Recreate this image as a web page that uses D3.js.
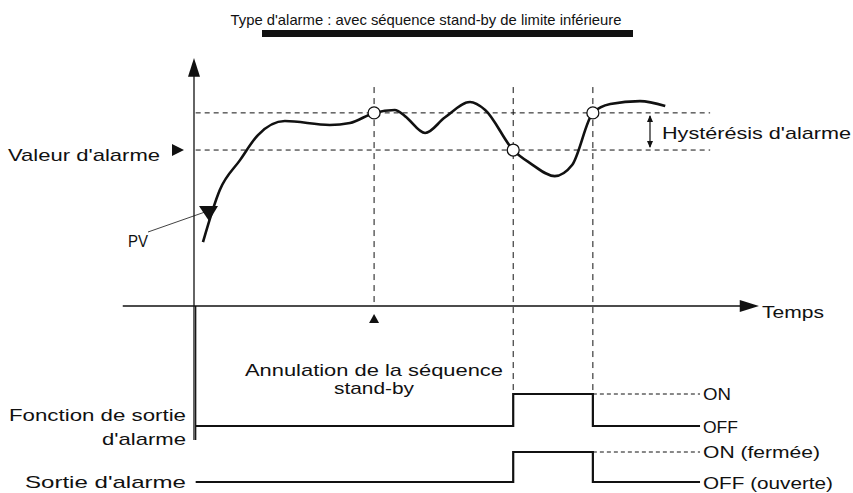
<!DOCTYPE html><html><head><meta charset="utf-8"><script src="https://cdn.jsdelivr.net/npm/d3@7"></script>
<style>body{margin:0;background:#fff}text{font-family:"Liberation Sans",Arial,sans-serif;fill:#111}</style></head><body>
<svg id="c" width="853" height="493"></svg>
<script>
const pvTime=[1.6,4.6,8.2,11.4,16.2,24.2,27.8,32.1,35.8,37.6,41.2,44.7,49.2,51.9,56.9,59.9,64.3,67.4,71.1,74.2,79.5,84.0];
const pvValue=[26,47.2,59.3,69.5,75.2,73.6,74.4,78.5,79.7,77.2,70.3,76.6,82.9,79.7,63.4,58.1,52.8,57.3,78.5,82.1,83.3,81.3];
const alarmValue=63.4, upperValue=78.5;
const events=[32.1,56.9,71.1]; // cancel, ON, OFF
const title="Type d'alarme : avec séquence stand-by de limite inférieure";
const svg=d3.select("#c");
const x=d3.scaleLinear().domain([0,100]).range([194,755]);
const y=d3.scaleLinear().domain([0,100]).range([306,60]);
const k="#111";
function txt(s,px,py,anchor,len,size){const t=svg.append("text").attr("x",px).attr("y",py).attr("text-anchor",anchor||"start").attr("font-size",size||17).text(s);if(len)t.attr("textLength",len).attr("lengthAdjust","spacingAndGlyphs");return t;}
txt(title,426,25,"middle",391,15);
svg.append("rect").attr("x",262).attr("y",30).attr("width",371).attr("height",7).attr("fill",k);
svg.append("line").attr("x1",x(0)).attr("x2",x(0)).attr("y1",y(94)).attr("y2",440).attr("stroke",k).attr("stroke-width",1.3);
svg.append("path").attr("d",`M${x(0)-6},${y(94)+2}L${x(0)},${y(100)-2}L${x(0)+6},${y(94)+2}Z`).attr("fill",k);
svg.append("line").attr("x1",x(-12.7)).attr("x2",x(99)).attr("y1",y(0)).attr("y2",y(0)).attr("stroke",k).attr("stroke-width",1.3);
svg.append("path").attr("d",`M${x(98)-4},${y(0)-6}L${x(100)+4},${y(0)}L${x(98)-4},${y(0)+6}Z`).attr("fill",k);
txt("Temps",762,318,"start",62);
[alarmValue,upperValue].forEach(v=>svg.append("line").attr("x1",x(0.3)).attr("x2",x(92)).attr("y1",y(v)).attr("y2",y(v)).attr("stroke",k).attr("stroke-dasharray","5,4").attr("stroke-width",1));
const vEnd=[y(0),394,394];
events.forEach((e,i)=>svg.append("line").attr("x1",x(e)).attr("x2",x(e)).attr("y1",y(89)).attr("y2",vEnd[i]).attr("stroke",k).attr("stroke-dasharray","6,5").attr("stroke-width",1));
const pts=pvTime.map((t,i)=>[x(t),y(pvValue[i])]);
svg.append("path").attr("d",d3.line().curve(d3.curveMonotoneX)(pts)).attr("fill","none").attr("stroke",k).attr("stroke-width",2.6);
[[events[0],upperValue],[events[1],alarmValue],[events[2],upperValue]].forEach(([t,v])=>svg.append("circle").attr("cx",x(t)).attr("cy",y(v)).attr("r",6).attr("fill","#fff").attr("stroke",k).attr("stroke-width",1.3));
txt("Valeur d'alarme",8,161,"start",152);
svg.append("path").attr("d",`M172,${y(alarmValue)-6}L184,${y(alarmValue)}L172,${y(alarmValue)+6}Z`).attr("fill",k);
txt("PV",128,247,"start",20);
svg.append("line").attr("x1",148).attr("y1",232).attr("x2",205).attr("y2",212).attr("stroke",k).attr("stroke-width",0.8);
svg.append("path").attr("d","M199,206L218,206L209,221Z").attr("fill",k);
const hx=650;
svg.append("line").attr("x1",hx).attr("x2",hx).attr("y1",y(upperValue)+3).attr("y2",y(alarmValue)-3).attr("stroke",k).attr("stroke-width",1.2);
svg.append("path").attr("d",`M${hx-3},${y(upperValue)+9}L${hx},${y(upperValue)+2}L${hx+3},${y(upperValue)+9}ZM${hx-3},${y(alarmValue)-9}L${hx},${y(alarmValue)-2}L${hx+3},${y(alarmValue)-9}Z`).attr("fill",k);
txt("Hystérésis d'alarme",662,139,"start",189);
svg.append("path").attr("d",`M${x(events[0])-5},323L${x(events[0])},314L${x(events[0])+5},323Z`).attr("fill",k);
txt("Annulation de la séquence",374,376,"middle",258);
txt("stand-by",374,394,"middle",80);
function row(yOn,yOff,labOn,labOff,onLen,offLen){
  const xs=x(0.3),xe=x(90.2);
  svg.append("path").attr("d",`M${xs},${yOff}H${x(events[1])}V${yOn}H${x(events[2])}V${yOff}H${xe}`).attr("fill","none").attr("stroke",k).attr("stroke-width",2.2);
  svg.append("line").attr("x1",x(events[2])).attr("x2",xe).attr("y1",yOn).attr("y2",yOn).attr("stroke",k).attr("stroke-dasharray","4,3").attr("stroke-width",1);
  txt(labOn,703,yOn+6,"start",onLen);txt(labOff,703,yOff+7,"start",offLen);
}
row(394,426,"ON","OFF",28,35);
row(452,482,"ON (fermée)","OFF (ouverte)",117,130);
svg.append("line").attr("x1",x(0.3)).attr("x2",x(0.3)).attr("y1",y(0)).attr("y2",440).attr("stroke",k).attr("stroke-width",1.3);
txt("Fonction de sortie",186,421,"end",177);
txt("d'alarme",186,445,"end",84);
txt("Sortie d'alarme",186,488,"end",161);
</script></body></html>
